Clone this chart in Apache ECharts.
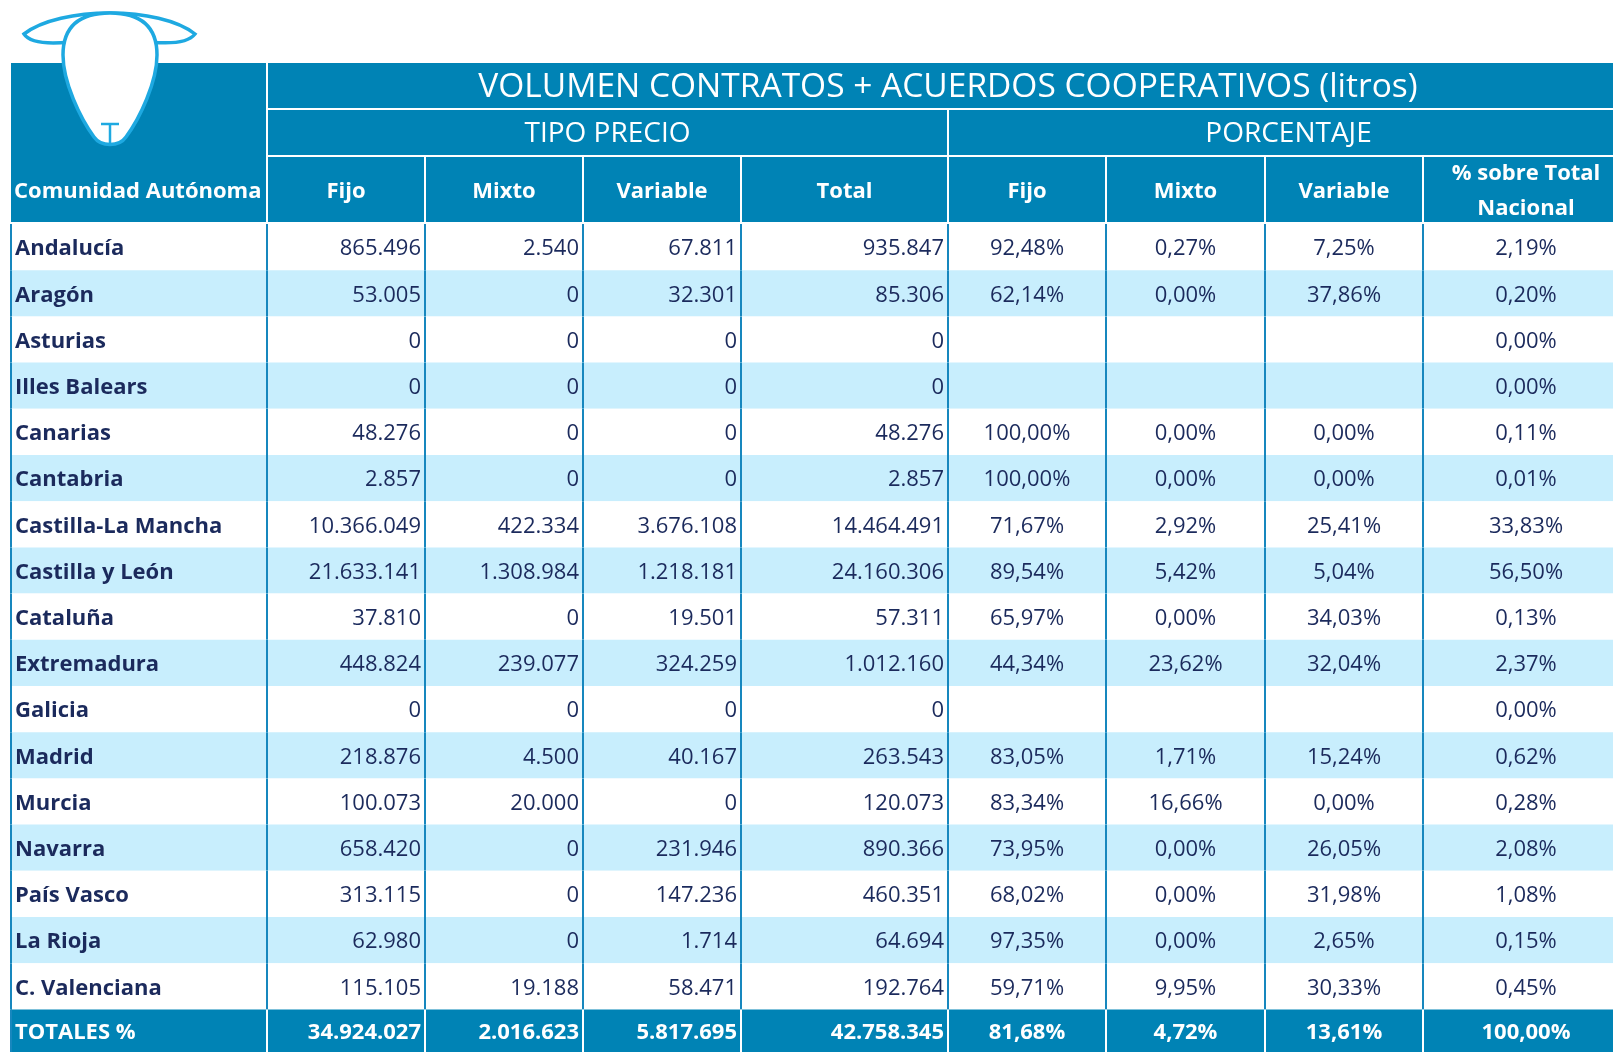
<!DOCTYPE html>
<html>
<head>
<meta charset="utf-8">
<script src="https://cdn.jsdelivr.net/npm/echarts@6/dist/echarts.min.js"></script>
<style>
  html, body { margin: 0; padding: 0; background: #fff; }
  #chart { width: 1613px; height: 1052px; }
</style>
</head>
<body>
<div id="chart"></div>
<script>
// datos por comunidad
var regions = ['Andalucía', 'Aragón', 'Asturias', 'Illes Balears', 'Canarias', 'Cantabria',
  'Castilla-La Mancha', 'Castilla y León', 'Cataluña', 'Extremadura', 'Galicia', 'Madrid',
  'Murcia', 'Navarra', 'País Vasco', 'La Rioja', 'C. Valenciana'];
var fijo = [865496, 53005, 0, 0, 48276, 2857, 10366049, 21633141, 37810, 448824, 0, 218876, 100073, 658420, 313115, 62980, 115105];
var mixto = [2540, 0, 0, 0, 0, 0, 422334, 1308984, 0, 239077, 0, 4500, 20000, 0, 0, 0, 19188];
var variable = [67811, 32301, 0, 0, 0, 0, 3676108, 1218181, 19501, 324259, 0, 40167, 0, 231946, 147236, 1714, 58471];
var total = [935847, 85306, 0, 0, 48276, 2857, 14464491, 24160306, 57311, 1012160, 0, 263543, 120073, 890366, 460351, 64694, 192764];
var pctFijo = [92.48, 62.14, null, null, 100, 100, 71.67, 89.54, 65.97, 44.34, null, 83.05, 83.34, 73.95, 68.02, 97.35, 59.71];
var pctMixto = [0.27, 0, null, null, 0, 0, 2.92, 5.42, 0, 23.62, null, 1.71, 16.66, 0, 0, 0, 9.95];
var pctVariable = [7.25, 37.86, null, null, 0, 0, 25.41, 5.04, 34.03, 32.04, null, 15.24, 0, 26.05, 31.98, 2.65, 30.33];
var pctNacional = [2.19, 0.20, 0, 0, 0.11, 0.01, 33.83, 56.50, 0.13, 2.37, 0, 0.62, 0.28, 2.08, 1.08, 0.15, 0.45];
// fila de totales
var totalLabel = 'TOTALES %';
var totVolumen = [34924027, 2016623, 5817695, 42758345];
var totPct = [81.68, 4.72, 13.61, 100];
// cabeceras
var title = 'VOLUMEN CONTRATOS + ACUERDOS COOPERATIVOS (litros)';
var groupLabels = ['TIPO PRECIO', 'PORCENTAJE'];
var colLabels = ['Comunidad Autónoma', 'Fijo', 'Mixto', 'Variable', 'Total', 'Fijo', 'Mixto', 'Variable', '% sobre Total\nNacional'];

// layout (px desde el borde izq. de la tabla)
var colEdges = [0, 256, 414, 572, 730, 937, 1095, 1254, 1412, 1618];
var headEdges = [0, 47, 94, 161];
var ROW_H = 46.2;
var BODY_TOP = 224;
var HEAD = '#0083B5', LIGHT = '#C8EEFD', LINE = '#1787BE', NAVY = '#1B2A5C', LOGO = '#1EA9E1';
var FONT = '"Open Sans", "Noto Sans", sans-serif';
var DY = 2; // ajuste vertical del texto

function fmtInt(n) { return String(n).replace(/\B(?=(\d{3})+(?!\d))/g, '.'); }
function fmtPct(n) { return n == null ? '' : n.toFixed(2).replace('.', ',') + '%'; }

var volCols = [fijo, mixto, variable, total];
var pctCols = [pctFijo, pctMixto, pctVariable, pctNacional];
function cellText(c, r, isTot) {
  if (isTot) {
    if (c === 0) return totalLabel;
    return c <= 4 ? fmtInt(totVolumen[c - 1]) : fmtPct(totPct[c - 5]);
  }
  if (c === 0) return regions[r];
  return c <= 4 ? fmtInt(volCols[c - 1][r]) : fmtPct(pctCols[c - 5][r]);
}

var bodyData = [];
regions.forEach(function (n, r) {
  for (var c = 0; c < colLabels.length; c++) bodyData.push([c, r]);
});
var totData = [];
for (var c = 0; c < colLabels.length; c++) totData.push([c, 0]);

// celdas de cabecera: [col ini, fila ini, col fin, fila fin]
var headCells = [[0, 0, 1, 3], [1, 0, 9, 1], [1, 1, 5, 2], [5, 1, 9, 2]];
var headTexts = ['', title, groupLabels[0], groupLabels[1]];
for (var c = 1; c < colLabels.length; c++) { headCells.push([c, 2, c + 1, 3]); headTexts.push(colLabels[c]); }

function cellRenderer(isTot) {
  return function (params, api) {
    var c = api.value(0), r = api.value(1);
    var a = api.coord([colEdges[c], r]);
    var b = api.coord([colEdges[c + 1], r]);
    var h = api.size([0, 1])[1];
    var x0 = a[0], x1 = b[0], yc = a[1], y0 = yc - h / 2;
    var fill = isTot ? HEAD : (r % 2 ? LIGHT : '#fff');
    var align = c === 0 ? 'left' : (c <= 4 ? 'right' : 'center');
    var tx = c === 0 ? x0 + 4 : (c <= 4 ? x1 - 4 : (x0 + x1) / 2);
    var bold = c === 0 || isTot;
    return { type: 'group', children: [
      { type: 'rect', shape: { x: x0, y: y0, width: x1 - x0, height: h }, style: { fill: fill } },
      { type: 'line', shape: { x1: x0, y1: y0, x2: x0, y2: y0 + h },
        style: { stroke: (isTot && c > 0) ? '#fff' : LINE, lineWidth: 2 } },
      { type: 'text', style: { text: cellText(c, r, isTot), x: tx, y: yc + DY, align: align, verticalAlign: 'middle',
        fill: isTot ? '#fff' : NAVY, font: (bold ? 'bold ' : '') + '22px ' + FONT } }
    ] };
  };
}

var chart = echarts.init(document.getElementById('chart'));
chart.setOption({
  animation: false,
  grid: [
    { left: 11, right: 0, top: 63, height: 161 },
    { left: 11, right: 0, top: BODY_TOP, height: regions.length * ROW_H },
    { left: 11, right: 0, top: BODY_TOP + regions.length * ROW_H, bottom: -3.6 }
  ],
  xAxis: [0, 1, 2].map(function (g) {
    return { type: 'value', gridIndex: g, min: 0, max: 1602, show: false };
  }),
  yAxis: [
    { type: 'value', gridIndex: 0, min: 0, max: 161, inverse: true, show: false },
    { type: 'category', gridIndex: 1, data: regions, inverse: true, show: false },
    { type: 'category', gridIndex: 2, data: [totalLabel], inverse: true, show: false }
  ],
  series: [
    {
      type: 'custom', xAxisIndex: 0, yAxisIndex: 0, data: headCells,
      renderItem: function (params, api) {
        var p0 = api.coord([colEdges[api.value(0)], headEdges[api.value(1)]]);
        var p1 = api.coord([colEdges[api.value(2)], headEdges[api.value(3)]]);
        var i = params.dataIndex;
        var x0 = api.value(0) === 0 ? p0[0] : p0[0] + 1;
        var rect = { type: 'rect', shape: { x: x0, y: p0[1], width: p1[0] - x0 - 1, height: p1[1] - p0[1] - 2 }, style: { fill: HEAD } };
        var size = i === 1 ? 33.5 : (i < 4 ? 28 : 22);
        var weight = i < 4 ? 'normal' : 'bold';
        return { type: 'group', children: [rect, {
          type: 'text',
          style: { text: headTexts[i], x: (p0[0] + p1[0]) / 2, y: (p0[1] + p1[1]) / 2 - 1 + DY,
            align: 'center', verticalAlign: 'middle', fill: '#fff', lineHeight: 35,
            font: weight + ' ' + size + 'px ' + FONT }
        }] };
      }
    },
    {
      // texto 'Comunidad Autónoma'
      type: 'custom', xAxisIndex: 0, yAxisIndex: 0, data: [[0, 2]],
      renderItem: function (params, api) {
        var p0 = api.coord([colEdges[0], headEdges[2]]);
        var p1 = api.coord([colEdges[1], headEdges[3]]);
        return { type: 'text', style: { text: colLabels[0], x: p0[0] + 3, y: (p0[1] + p1[1]) / 2 - 1 + DY,
          align: 'left', verticalAlign: 'middle', fill: '#fff', font: 'bold 22px ' + FONT } };
      }
    },
    { type: 'custom', xAxisIndex: 1, yAxisIndex: 1, data: bodyData, renderItem: cellRenderer(false) },
    { type: 'custom', xAxisIndex: 2, yAxisIndex: 2, data: totData, renderItem: cellRenderer(true) },
    {
      // logo (oveja)
      type: 'custom', coordinateSystem: 'none', data: [[0]], z: 10, silent: true,
      renderItem: function () {
        return { type: 'group', children: [
          { type: 'path', shape: { pathData: 'M24 34 C60 6 160 6 195 34 C188 43 170 44 150 42 L70 42 C50 44 30 43 24 34 Z' },
            style: { fill: '#fff', stroke: LOGO, lineWidth: 3.5 } },
          { type: 'path', shape: { pathData: 'M110 13 C142 13 157 28 157 55 C157 82 140 118 126 137 C119 147 101 147 94 137 C80 118 63 82 63 55 C63 28 78 13 110 13 Z' },
            style: { fill: '#fff', stroke: LOGO, lineWidth: 3.5 } },
          { type: 'line', shape: { x1: 101, y1: 124, x2: 119, y2: 124 }, style: { stroke: LOGO, lineWidth: 2.5 } },
          { type: 'line', shape: { x1: 110, y1: 124, x2: 110, y2: 143 }, style: { stroke: LOGO, lineWidth: 2.5 } }
        ] };
      }
    }
  ]
});
</script>
</body>
</html>
